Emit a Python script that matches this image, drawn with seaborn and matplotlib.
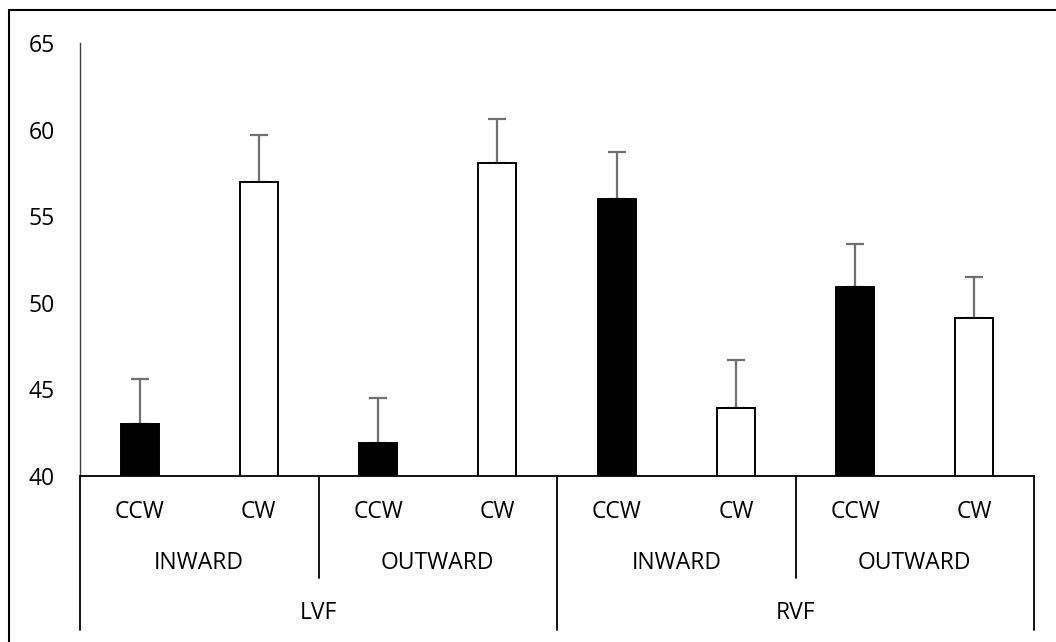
import numpy as np
import pandas as pd
import matplotlib
matplotlib.use("Agg")
import matplotlib.pyplot as plt
import matplotlib.transforms as mtransforms
from matplotlib.patches import Rectangle
import seaborn as sns

# 数据
fields = ["LVF", "LVF", "LVF", "LVF", "RVF", "RVF", "RVF", "RVF"]
directions = ["INWARD", "INWARD", "OUTWARD", "OUTWARD", "INWARD", "INWARD", "OUTWARD", "OUTWARD"]
rotations = ["CCW", "CW", "CCW", "CW", "CCW", "CW", "CCW", "CW"]
means = [43.0, 57.0, 41.9, 58.1, 56.0, 43.9, 50.9, 49.1]
errors = [2.6, 2.7, 2.6, 2.5, 2.7, 2.8, 2.5, 2.4]
y_ticks = [40, 45, 50, 55, 60, 65]

df = pd.DataFrame({
    "field": fields,
    "direction": directions,
    "rotation": rotations,
    "value": means,
})
df["slot"] = df["field"] + "|" + df["direction"] + "|" + df["rotation"]

sns.set_style("white")
plt.rcParams["font.family"] = ["Open Sans", "DejaVu Sans"]
plt.rcParams["text.color"] = "black"
plt.rcParams["ytick.color"] = "black"
FS = 16.5

W, H = 1056, 642
fig = plt.figure(figsize=(W / 100, H / 100), dpi=100)
ax = fig.add_axes([80 / W, 1 - 476 / H, 954 / W, 433 / H])

sns.barplot(data=df, x="slot", y="value", hue="rotation", order=list(df["slot"]),
            hue_order=["CCW", "CW"], palette={"CCW": "black", "CW": "white"},
            dodge=False, width=0.32, edgecolor="black", linewidth=1.4,
            legend=False, ax=ax, zorder=2)

# 只画上方误差线
x = np.arange(len(means))
ax.errorbar(x, means, yerr=[np.zeros(len(means)), errors], fmt="none",
            ecolor="#707070", elinewidth=1.6, capsize=6.5, capthick=1.6, zorder=1)

ax.set_ylim(40, 65)
ax.set_xlim(-0.5, len(means) - 0.5)
ax.set_yticks(y_ticks)
ax.set_yticklabels([str(t) for t in y_ticks], fontsize=FS, color="black")
ax.tick_params(axis="y", length=0, pad=18)
ax.set_xticks([])
ax.set_xlabel("")
ax.set_ylabel("")

for side in ["top", "right"]:
    ax.spines[side].set_visible(False)
ax.spines["left"].set_color("#404040")
ax.spines["left"].set_linewidth(1.0)
ax.spines["bottom"].set_color("black")
ax.spines["bottom"].set_linewidth(1.3)

# 多层分类轴
trans = mtransforms.blended_transform_factory(ax.transData, ax.transAxes)
px = 1 / 433  # 一个像素在 axes 坐标中的高度
y_rot = -(512 - 476) * px
y_dir = -(563 - 476) * px
y_field = -(613 - 476) * px
y_short = -(578 - 476) * px
y_long = -(630 - 476) * px

for i, r in enumerate(rotations):
    ax.text(i, y_rot, r, transform=trans, ha="center", va="center", fontsize=FS, color="black")

for k in range(0, len(directions), 2):
    ax.text(k + 0.5, y_dir, directions[k], transform=trans, ha="center", va="center",
            fontsize=FS, color="black")

for k in range(0, len(fields), 4):
    ax.text(k + 1.5, y_field, fields[k], transform=trans, ha="center", va="center",
            fontsize=FS, color="black")

for b in range(0, len(means) + 1, 2):
    y_end = y_long if b % 4 == 0 else y_short
    ax.plot([b - 0.5, b - 0.5], [0, y_end], transform=trans, color="black",
            lw=1.3, clip_on=False)

# 外框（右、下边在画面外）
fig.add_artist(Rectangle((9 / W, -0.1), 1.2, 1.1 - 10 / H,
                         transform=fig.transFigure, fill=False, edgecolor="black", lw=1.5))

fig.savefig("out.png", dpi=100)
